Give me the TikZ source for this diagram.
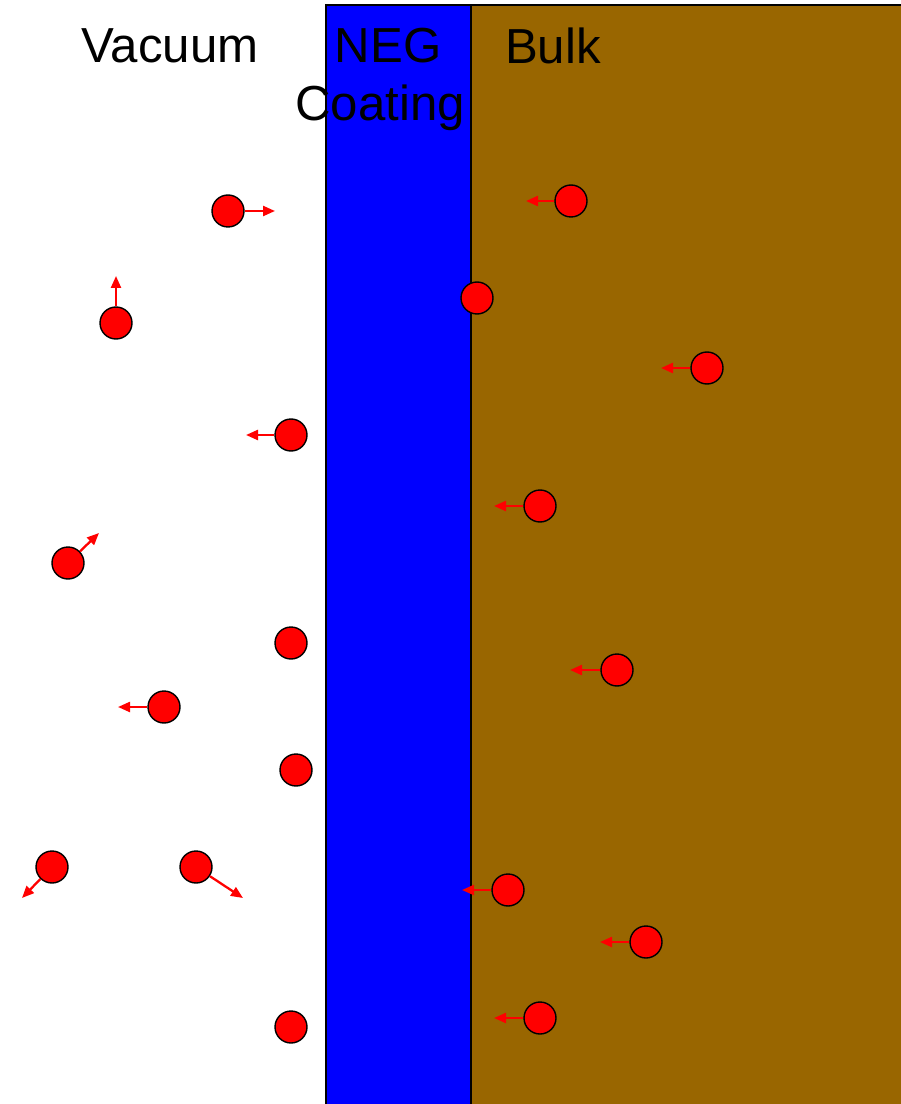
\documentclass[tikz,border=0pt]{standalone}
\usepackage{fontspec}
\setmainfont{Liberation Sans}
\usetikzlibrary{arrows.meta}

\definecolor{negblue}{RGB}{0,0,255}
\definecolor{bulkbrown}{RGB}{153,102,0}

\begin{document}
\begin{tikzpicture}[x=0.02cm,y=-0.02cm,
  particle/.style={circle, draw=black, line width=0.8pt, fill=red, minimum size=0.64cm, inner sep=0pt},
  motion/.style={draw=red, line width=1.3pt, -{Triangle[length=2.4mm,width=2mm]}},
  label/.style={font=\fontsize{28}{31}\selectfont, align=center}]

\useasboundingbox (0,0) rectangle (900,1104);

% Layers
\fill[negblue] (326,5) rectangle (471,1110);
\fill[bulkbrown] (471,5) rectangle (910,1110);
\draw[line width=0.8pt] (326,1110) -- (326,5) -- (910,5);
\draw[line width=0.8pt] (471,5) -- (471,1110);

% Titles
\node[label] (vac) at (170,46) {Vacuum};
\node[label] (neg) at (388,46) {NEG};
\node[label] (coat) at (380,108) {Coating};
\node[label] (bulk) at (553,46) {Bulk};

% Moving particles
\foreach \n/\x/\y/\ex/\ey in {
  a/228/211/275/211, b/116/323/116/276, c/291/435/246/435,
  d/68/563/99/533, e/164/707/118/707, f/52/867/22/898,
  g/196/867/243/898, h/571/201/526/201, i/707/368/661/368,
  j/540/506/494/506, k/617/670/570/670, l/508/890/462/890,
  m/646/942/600/942, o/540/1018/494/1018}
{
\node[particle] (p\n) at (\x,\y) {};
\coordinate (p\n e) at (\ex,\ey);
\draw[motion] (p\n) -- (p\n e);
}

% Particles at rest
\foreach \n/\x/\y in {q/291/643, r/296/770, s/291/1027, t/477/298}
{
\node[particle] (p\n) at (\x,\y) {};
}

\end{tikzpicture}
\end{document}
